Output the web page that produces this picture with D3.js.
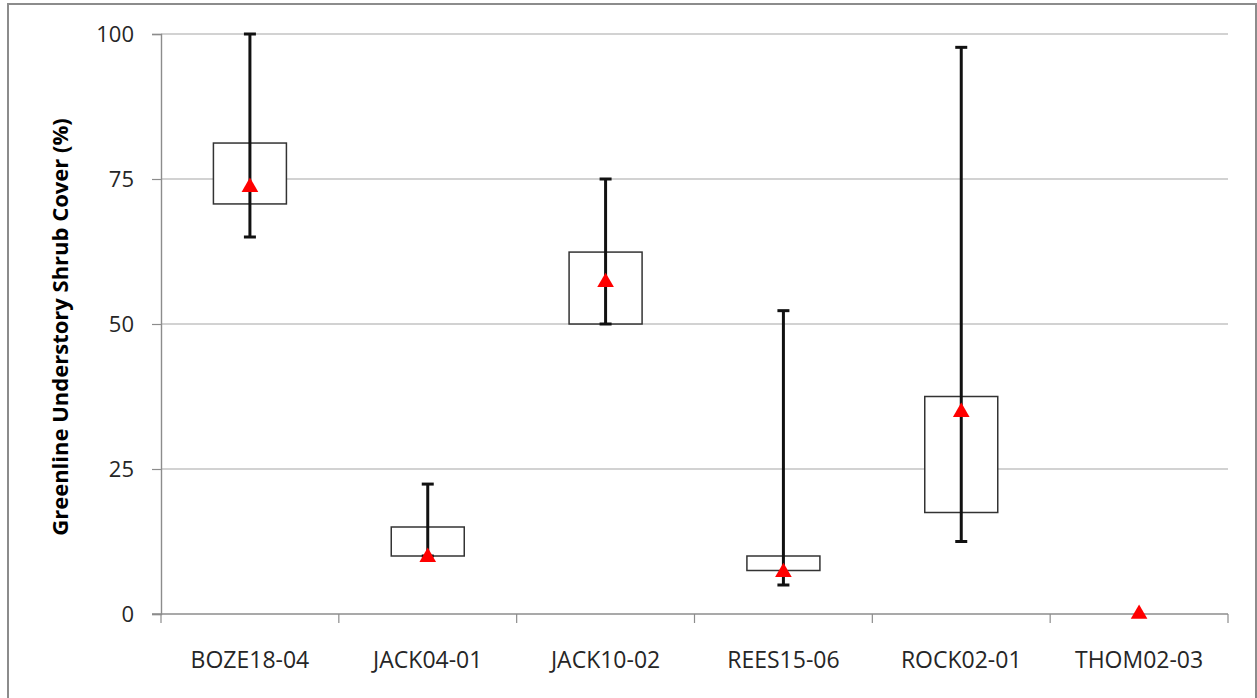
<!DOCTYPE html>
<html>
<head>
<meta charset="utf-8">
<script src="https://cdn.jsdelivr.net/npm/d3@7"></script>
<style>
  html, body { margin: 0; padding: 0; background: #fff; }
  svg { display: block; }
  text { font-family: "Open Sans", "Noto Sans", sans-serif; }
</style>
</head>
<body>
<svg id="chart" width="1257" height="698"></svg>
<script>
// Shrub cover by site: interquartile box, min/max whiskers, mean marker
const sites   = ["BOZE18-04", "JACK04-01", "JACK10-02", "REES15-06", "ROCK02-01", "THOM02-03"];
const q1      = [70.7, 10.0, 50.0,  7.5, 17.5, 0];
const q3      = [81.2, 15.0, 62.4, 10.0, 37.5, 0];
const minVals = [65.0, 10.0, 50.0,  5.0, 12.5, 0];
const maxVals = [100.0, 22.4, 75.0, 52.3, 97.7, 0];
const means   = [73.6,  9.8, 57.2,  7.2, 34.8, 0];
const yTicks  = [0, 25, 50, 75, 100];

const svg = d3.select("#chart");
const W = 1257, H = 698;
const plot = { left: 161, right: 1228, top: 34, bottom: 614 };

// outer frame (bottom edge lies outside the canvas)
svg.append("path")
  .attr("d", `M8,${H + 2} L8,4 L1256,4 L1256,${H + 2}`)
  .attr("fill", "none").attr("stroke", "#8c8c8c").attr("stroke-width", 2);

const x = d3.scaleBand().domain(sites).range([plot.left, plot.right]).padding(0);
const y = d3.scaleLinear().domain([0, 100]).range([plot.bottom, plot.top]);

// horizontal gridlines
svg.append("g").selectAll("line")
  .data(yTicks.filter(t => t > 0)).join("line")
  .attr("x1", plot.left).attr("x2", plot.right)
  .attr("y1", d => y(d)).attr("y2", d => y(d))
  .attr("stroke", "#a6a6a6").attr("stroke-width", 1.2);

// y axis
const yAxis = svg.append("g")
  .attr("transform", `translate(${plot.left},0)`)
  .call(d3.axisLeft(y).tickValues(yTicks).tickSize(9).tickPadding(18).tickFormat(d3.format("d")));
yAxis.select(".domain").attr("stroke", "#8c8c8c").attr("stroke-width", 1.4);
yAxis.selectAll(".tick line").attr("stroke", "#8c8c8c").attr("stroke-width", 1.2);
yAxis.selectAll(".tick text").attr("font-size", 22).attr("fill", "#262626");

// x axis with ticks at category boundaries
const xAxisG = svg.append("g").attr("transform", `translate(0,${plot.bottom})`);
xAxisG.append("line")
  .attr("x1", plot.left - 9).attr("x2", plot.right)
  .attr("stroke", "#8c8c8c").attr("stroke-width", 1.4);
const bounds = sites.map(s => x(s)).concat([x(sites[sites.length - 1]) + x.bandwidth()]);
xAxisG.selectAll("line.tk").data(bounds).join("line").attr("class", "tk")
  .attr("x1", d => d).attr("x2", d => d).attr("y1", 0).attr("y2", 9)
  .attr("stroke", "#8c8c8c").attr("stroke-width", 1.2);
xAxisG.selectAll("text").data(sites).join("text")
  .attr("x", d => x(d) + x.bandwidth() / 2)
  .attr("y", 54)
  .attr("text-anchor", "middle")
  .attr("font-size", 23).attr("fill", "#262626")
  .text(d => d);

// y axis title
svg.append("text")
  .attr("transform", `translate(68,${(plot.top + plot.bottom) / 2 + 3}) rotate(-90)`)
  .attr("text-anchor", "middle")
  .attr("font-size", 22).attr("font-weight", "bold").attr("fill", "#000")
  .text("Greenline Understory Shrub Cover (%)");

const rows = sites.map((s, i) => ({ site: s, q1: q1[i], q3: q3[i], min: minVals[i], max: maxVals[i], mean: means[i] }));
const cx = d => x(d.site) + x.bandwidth() / 2;
const boxW = 73, capW = 12;

const marks = svg.append("g");
const withRange = rows.filter(d => d.max > d.min);

// interquartile boxes
marks.selectAll("rect").data(withRange).join("rect")
  .attr("x", d => cx(d) - boxW / 2).attr("width", boxW)
  .attr("y", d => y(d.q3)).attr("height", d => y(d.q1) - y(d.q3))
  .attr("fill", "#fff").attr("stroke", "#333").attr("stroke-width", 1.5);

// whiskers
marks.selectAll("line.wh").data(withRange).join("line").attr("class", "wh")
  .attr("x1", cx).attr("x2", cx)
  .attr("y1", d => y(d.max)).attr("y2", d => y(d.min))
  .attr("stroke", "#111").attr("stroke-width", 3);
["max", "min"].forEach(k => {
  marks.selectAll("line.cap-" + k).data(withRange).join("line").attr("class", "cap-" + k)
    .attr("x1", d => cx(d) - capW / 2).attr("x2", d => cx(d) + capW / 2)
    .attr("y1", d => y(d[k])).attr("y2", d => y(d[k]))
    .attr("stroke", "#111").attr("stroke-width", 3);
});

// mean markers
const tri = d3.symbol().type(d3.symbolTriangle).size(120);
marks.selectAll("path.mean").data(rows).join("path").attr("class", "mean")
  .attr("transform", d => `translate(${cx(d)},${y(d.mean)})`)
  .attr("d", tri)
  .attr("fill", "#ff0000");
</script>
</body>
</html>
